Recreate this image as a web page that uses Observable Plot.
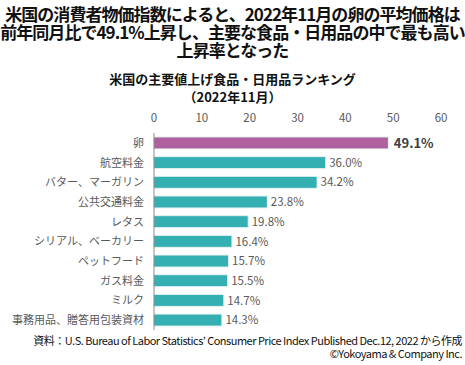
<!DOCTYPE html>
<html><head><meta charset="utf-8">
<script src="https://cdn.jsdelivr.net/npm/d3@7"></script>
<script src="https://cdn.jsdelivr.net/npm/@observablehq/plot@0.6"></script>
<style>
body{margin:0;width:465px;height:365px;background:#fff;font-family:"Noto Sans CJK JP","Noto Sans",sans-serif;overflow:hidden;position:relative}
#title{position:absolute;left:0;top:5px;width:465px;font-weight:bold;font-size:17px;line-height:18px;text-align:center;color:#111;letter-spacing:-0.95px;white-space:nowrap}
#sub{position:absolute;left:0;top:70px;width:465px;font-weight:bold;font-size:13px;line-height:18px;text-align:center;color:#111;white-space:nowrap}
#chart{position:absolute;left:0;top:105px;width:465px;height:230px}
#cap{position:absolute;right:3px;top:334px;font-size:11px;line-height:13px;text-align:right;color:#111;letter-spacing:-0.5px;white-space:nowrap}
</style></head>
<body>
<div id="title">米国の消費者物価指数によると、2022年11月の卵の平均価格は<br>前年同月比で49.1%上昇し、主要な食品・日用品の中で最も高い<br>上昇率となった</div>
<div id="sub">米国の主要値上げ食品・日用品ランキング<br>（2022年11月）</div>
<div id="chart"></div>
<div id="cap">資料：U.S. Bureau of Labor Statistics’ Consumer Price Index Published Dec.12, 2022 から作成<br>©Yokoyama &amp; Company Inc.</div>
<script>
const categories = ["卵","航空料金","バター、マーガリン","公共交通料金","レタス","シリアル、ベーカリー","ペットフード","ガス料金","ミルク","事務用品、贈答用包装資材"];
const values = [49.1,36.0,34.2,23.8,19.8,16.4,15.7,15.5,14.7,14.3];
const xTicks = [0,10,20,30,40,50,60];
const data = categories.map((c,i)=>({cat:c, v:values[i], hi:i===0}));
const plot = Plot.plot({
  width:465, height:230,
  marginTop:28, marginBottom:5, marginLeft:153.5, marginRight:24.5,
  style:{fontFamily:'"Noto Sans CJK JP","Noto Sans",sans-serif', fontSize:"12px", color:"#595959", background:"#fff", overflow:"visible"},
  x:{domain:[0,60], ticks:xTicks, axis:null},
  y:{domain:categories, paddingInner:0.39, paddingOuter:0.2, round:false, axis:null},
  marks:[
    Plot.axisX({anchor:"top", ticks:xTicks, tickSize:0, tickPadding:12, fontSize:11.5, fill:"#595959", label:null}),
    Plot.barX(data,{x:"v", y:"cat", fill:d=>d.hi?"#B0609E":"#34AFB2", stroke:"#e6f3f3", strokeWidth:1}),
    Plot.ruleX([0],{stroke:"#8c8c8c", strokeWidth:1}),
    Plot.axisY({anchor:"left", tickSize:0, tickPadding:10, fontSize:11, fill:"#595959", label:null}),
    Plot.text(data.filter(d=>!d.hi),{x:"v", y:"cat", text:d=>d.v.toFixed(1)+"%", textAnchor:"start", dx:3, fill:"#595959", fontSize:11.5}),
    Plot.text(data.filter(d=>d.hi),{x:"v", y:"cat", text:d=>d.v.toFixed(1)+"%", textAnchor:"start", dx:5, fill:"#404040", fontSize:13, fontWeight:"bold"})
  ]
});
document.getElementById("chart").appendChild(plot);
</script>
</body></html>
